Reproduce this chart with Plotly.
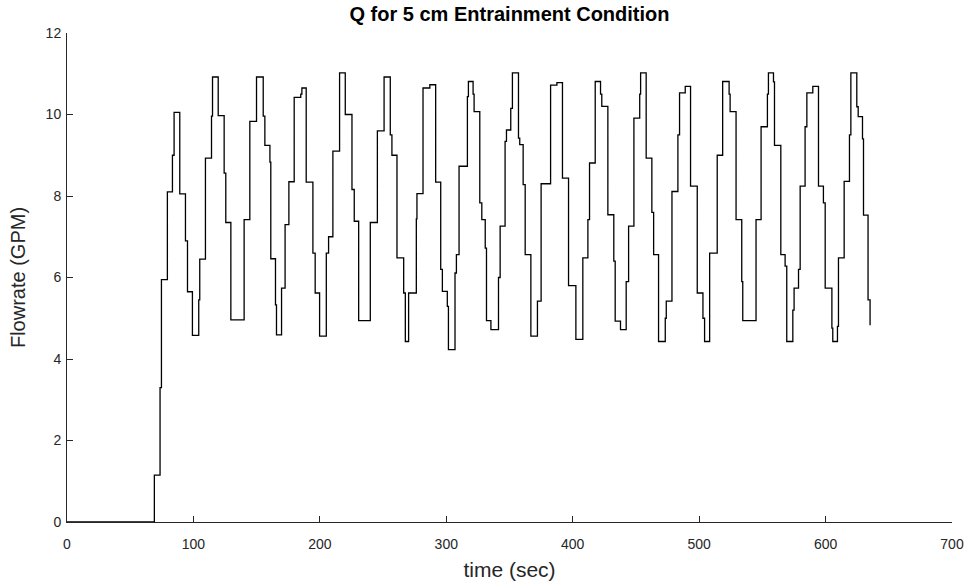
import plotly.graph_objects as go

# Step breakpoints (time in sec) and flowrate values (GPM)
time_sec = [0, 69.1, 73.6, 74.7, 79.4, 83.4, 84.7, 89.2, 93.7, 95.3, 99.2, 104.2, 105.0,
            109.5, 114.3, 115.1, 119.6, 124.3, 125.6, 129.6, 140.1, 144.6, 149.9, 155.2,
            156.5, 160.5, 161.2, 164.9, 165.7, 169.7, 172.5, 175.5, 179.7, 184.9, 185.8,
            189.2, 194.5, 196.3, 199.8, 205.1, 206.9, 210.3, 215.6, 220.1, 225.4, 227.2,
            230.7, 239.9, 245.5, 250.8, 255.7, 257.0, 261.0, 266.3, 267.6, 270.2, 276.3,
            276.8, 281.6, 287.0, 291.6, 295.6, 296.9, 300.8, 301.7, 306.9, 308.0, 310.1,
            316.7, 317.5, 321.2, 322.0, 326.5, 328.1, 330.8, 331.8, 335.3, 341.3, 342.6,
            346.5, 347.6, 351.0, 352.3, 357.1, 358.1, 360.8, 362.4, 366.9, 372.1, 375.0,
            382.5, 387.5, 391.9, 396.7, 402.5, 408.0, 412.0, 413.3, 417.8, 422.0, 423.0,
            427.8, 432.5, 433.6, 437.8, 442.3, 444.2, 448.4, 453.0, 453.7, 458.1, 462.6,
            464.0, 467.9, 473.2, 474.0, 478.5, 483.2, 484.5, 489.0, 493.2, 498.5, 503.0,
            504.3, 508.3, 514.3, 518.6, 523.7, 524.5, 529.2, 533.7, 534.5, 545.0, 549.0,
            554.0, 554.8, 558.8, 559.6, 564.6, 568.0, 569.3, 574.1, 575.1, 578.6, 579.9,
            583.8, 585.2, 589.9, 594.4, 598.3, 599.7, 605.0, 605.7, 609.4, 610.2, 614.7,
            618.9, 620.0, 624.7, 625.8, 629.2, 630.0, 633.6, 635.2]
flow_gpm = [0, 1.15, 3.3, 5.95, 8.1, 9.0, 10.05, 8.05, 6.9, 5.65, 4.58, 5.45, 6.45,
            8.93, 9.96, 10.92, 9.97, 8.56, 7.35, 4.96, 7.42, 9.83, 10.92, 9.96,
            9.24, 8.83, 6.46, 5.33, 4.59, 5.74, 7.3, 8.35, 10.42, 10.5, 10.65,
            8.34, 6.6, 5.62, 4.56, 6.6, 7.0, 9.1, 11.02, 10.0, 8.16, 7.38,
            4.94, 7.35, 9.6, 10.92, 9.5, 9.0, 6.48, 5.62, 4.43, 5.62, 7.44,
            8.06, 10.65, 10.73, 8.34, 6.2, 5.66, 5.29, 4.23, 6.11, 6.56, 8.73,
            10.44, 10.81, 10.5, 10.07, 7.83, 7.42, 6.72, 4.94, 4.72, 6.0, 7.26,
            9.34, 9.62, 10.15, 11.02, 9.42, 9.26, 8.28, 6.56, 4.56, 5.42, 8.3,
            10.72, 10.78, 8.44, 5.8, 4.48, 6.48, 7.42, 8.81, 10.81, 10.5, 10.2,
            7.54, 6.4, 4.93, 4.72, 5.9, 7.26, 9.91, 10.5, 11.02, 8.93, 7.6,
            6.56, 4.43, 5.0, 5.42, 8.11, 9.5, 10.53, 10.69, 8.24, 5.62, 5.0,
            4.43, 6.6, 9.0, 10.81, 10.5, 10.07, 7.42, 5.9, 4.94, 7.42, 9.7,
            10.5, 11.02, 10.8, 9.24, 6.56, 6.28, 4.43, 5.2, 5.74, 6.2, 8.24,
            9.7, 10.53, 10.69, 8.24, 7.83, 5.74, 4.76, 4.43, 4.8, 6.48, 8.36,
            9.5, 11.02, 10.19, 9.95, 9.4, 7.53, 5.45, 4.83]

x_ticks = [0, 100, 200, 300, 400, 500, 600, 700]
y_ticks = [0, 2, 4, 6, 8, 10, 12]

axis_color = "#262626"
font_family = "Arial, Liberation Sans, Helvetica, sans-serif"

fig = go.Figure()
fig.add_trace(go.Scatter(
    x=time_sec, y=flow_gpm, mode="lines",
    line=dict(color="black", width=1.3, shape="hv"),
    showlegend=False, hoverinfo="x+y",
))

fig.update_layout(
    width=979, height=588,
    margin=dict(l=67, r=27, t=33, b=66),
    paper_bgcolor="white", plot_bgcolor="white",
    font=dict(family=font_family, color=axis_color, size=14),
    title=dict(text="<b>Q for 5 cm Entrainment Condition</b>",
               x=0.5, xref="paper", xanchor="center",
               y=1 - 14 / 588, yref="container", yanchor="middle",
               font=dict(size=20, color="black", family=font_family)),
)
fig.update_xaxes(
    range=[0, 700], tickvals=x_ticks, ticktext=[str(v) for v in x_ticks],
    showgrid=False, zeroline=False, showline=True, linecolor=axis_color, linewidth=1,
    ticks="inside", ticklen=6, tickcolor=axis_color, mirror=False,
    ticklabelstandoff=9,
    title=dict(text="time (sec)", font=dict(size=21, color=axis_color), standoff=11),
    tickfont=dict(size=14, color=axis_color),
)
fig.update_yaxes(
    range=[0, 12], tickvals=y_ticks, ticktext=[str(v) for v in y_ticks],
    showgrid=False, zeroline=False, showline=True, linecolor=axis_color, linewidth=1,
    ticks="inside", ticklen=6, tickcolor=axis_color, mirror=False,
    ticklabelstandoff=2,
    title=dict(text="Flowrate (GPM)", font=dict(size=20, color=axis_color), standoff=14),
    tickfont=dict(size=14, color=axis_color),
)

fig.write_html("out.html")
